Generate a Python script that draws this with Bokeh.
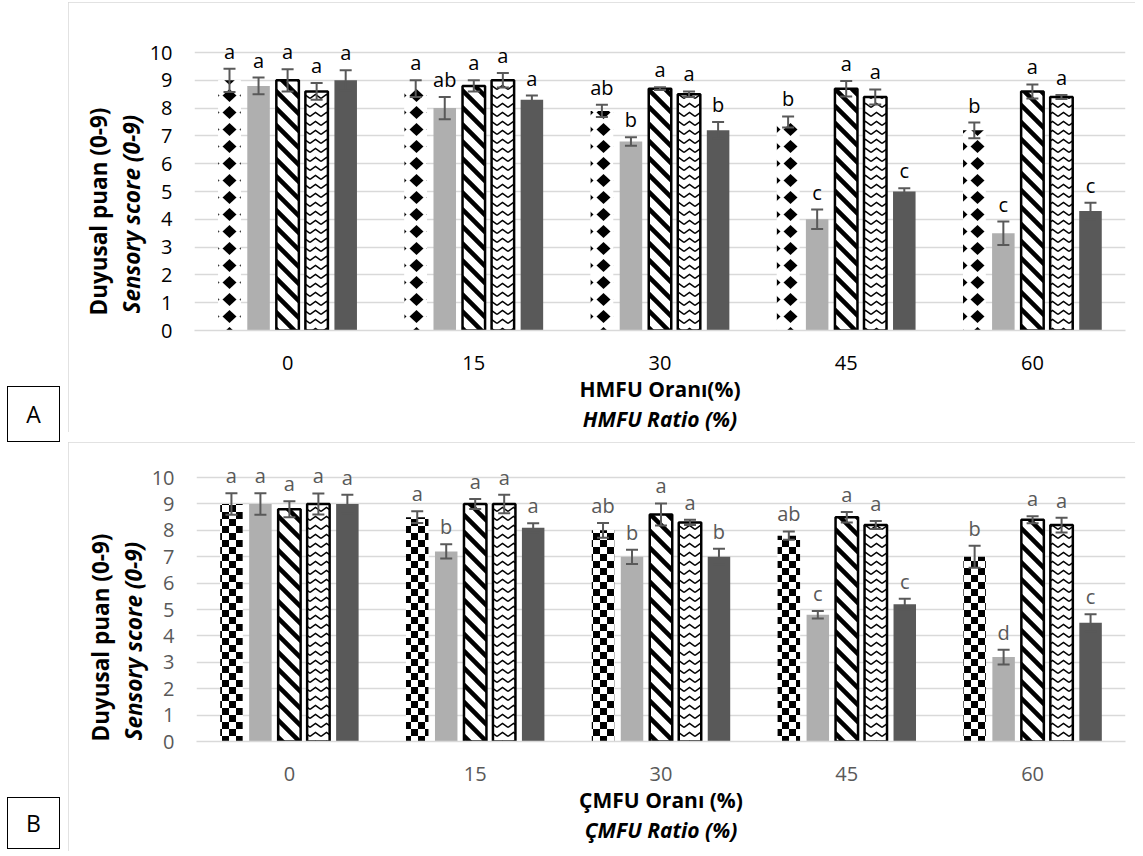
import base64
from bokeh.plotting import figure
from bokeh.models import (FactorRange, Range1d, ColumnDataSource, FixedTicker,
                          ImageURLTexture, Title, Div)
from bokeh.transform import dodge
from bokeh.layouts import column, row
from bokeh.core.properties import value
from bokeh.embed import file_html
from bokeh.resources import INLINE

# ---------------- data ----------------
categories = ["0", "15", "30", "45", "60"]

# Panel A  (HMFU)
a_s1 = [9.0, 8.7, 7.9, 7.5, 7.2]
a_s1_err = [0.42, 0.3, 0.22, 0.2, 0.28]
a_s1_lab = ["a", "a", "ab", "b", "b"]
a_s2 = [8.8, 8.0, 6.8, 4.0, 3.5]
a_s2_err = [0.3, 0.4, 0.15, 0.35, 0.42]
a_s2_lab = ["a", "ab", "b", "c", "c"]
a_s3 = [9.0, 8.8, 8.7, 8.7, 8.6]
a_s3_err = [0.4, 0.2, 0.05, 0.28, 0.25]
a_s3_lab = ["a", "a", "a", "a", "a"]
a_s4 = [8.6, 9.0, 8.5, 8.4, 8.4]
a_s4_err = [0.3, 0.26, 0.1, 0.27, 0.07]
a_s4_lab = ["a", "a", "a", "a", "a"]
a_s5 = [9.0, 8.3, 7.2, 5.0, 4.3]
a_s5_err = [0.36, 0.15, 0.3, 0.12, 0.3]
a_s5_lab = ["a", "a", "b", "c", "c"]

# Panel B  (ÇMFU)
b_s1 = [9.0, 8.5, 8.0, 7.8, 7.0]
b_s1_err = [0.41, 0.22, 0.28, 0.16, 0.42]
b_s1_lab = ["a", "a", "ab", "ab", "b"]
b_s2 = [9.0, 7.2, 7.0, 4.8, 3.2]
b_s2_err = [0.41, 0.27, 0.27, 0.14, 0.28]
b_s2_lab = ["a", "b", "b", "c", "d"]
b_s3 = [8.8, 9.0, 8.6, 8.5, 8.4]
b_s3_err = [0.3, 0.19, 0.42, 0.2, 0.13]
b_s3_lab = ["a", "a", "a", "a", "a"]
b_s4 = [9.0, 9.0, 8.3, 8.2, 8.2]
b_s4_err = [0.4, 0.35, 0.1, 0.15, 0.28]
b_s4_lab = ["a", "a", "a", "a", "a"]
b_s5 = [9.0, 8.1, 7.0, 5.2, 4.5]
b_s5_err = [0.35, 0.17, 0.3, 0.21, 0.32]
b_s5_lab = ["a", "a", "b", "c", "c"]

y_ticks = [0, 1, 2, 3, 4, 5, 6, 7, 8, 9, 10]

# ---------------- textures ----------------
def tile(w, h, body):
    svg = (f'<svg xmlns="http://www.w3.org/2000/svg" width="{w}" height="{h}" '
           f'viewBox="0 0 {w} {h}"><rect width="{w}" height="{h}" fill="white"/>{body}</svg>')
    return "data:image/svg+xml;base64," + base64.b64encode(svg.encode()).decode()

TEX_DIAMOND = tile(17, 17, '<polygon points="8.5,2 15.5,8.5 8.5,15 1.5,8.5" fill="black"/>')
TEX_CHECKER = tile(14, 14, '<rect x="0" y="0" width="7" height="7" fill="black"/>'
                           '<rect x="7" y="7" width="7" height="7" fill="black"/>')
TEX_DIAG = tile(17, 17, '<path d="M-5,-5 L22,22 M-5,12 L5,22 M12,-5 L22,5" '
                        'stroke="black" stroke-width="4.5" fill="none"/>')
TEX_WAVE = tile(11, 9, '<path d="M0,6.5 L5.5,2.5 L11,6.5" stroke="black" '
                       'stroke-width="1.5" fill="none"/>')

FONT = "Open Sans"
OFFSETS = [-0.312, -0.156, 0.0, 0.156, 0.312]
BAR_W = 0.121
ERR_COLOR = "#595959"


def build(series, first_tex, tick_color, lab_color, height, left, top, bottom, y_end,
          xtitles, ytitles):
    p = figure(x_range=FactorRange(factors=categories), y_range=Range1d(0, y_end),
               width=1067, height=height, output_backend="svg", toolbar_location=None,
               min_border_left=left, min_border_right=10, min_border_top=top,
               min_border_bottom=bottom)
    p.outline_line_color = None
    p.background_fill_color = "white"
    p.border_fill_color = "white"
    p.styles = {"outline": "1.5px solid #d9d9d9", "outline-offset": "-1.5px"}
    p.xgrid.grid_line_color = None
    p.ygrid.grid_line_color = "#d9d9d9"
    p.ygrid.grid_line_width = 1.5
    p.yaxis.ticker = FixedTicker(ticks=y_ticks)
    for ax in (p.xaxis, p.yaxis):
        ax.major_tick_line_color = None
        ax.minor_tick_line_color = None
        ax.major_label_text_font = FONT
        ax.major_label_text_font_size = "20px"
        ax.major_label_text_color = tick_color
    p.yaxis.axis_line_color = None
    p.yaxis.major_label_standoff = 16
    p.xaxis.axis_line_color = "#d9d9d9"
    p.xaxis.axis_line_width = 1.5
    p.xaxis.major_label_standoff = 19

    styles = [
        dict(fill="white", line=None, pat="dot", tex=first_tex),
        dict(fill="#afafaf", line=None, pat=None, tex=None),
        dict(fill="white", line="black", pat="left_diagonal_line", tex=TEX_DIAG),
        dict(fill="white", line="black", pat="horizontal_wave", tex=TEX_WAVE),
        dict(fill="#595959", line=None, pat=None, tex=None),
    ]
    for (vals, errs, labs), st, off in zip(series, styles, OFFSETS):
        src = ColumnDataSource(dict(
            cat=categories, v=vals,
            lo=[v - e for v, e in zip(vals, errs)],
            hi=[v + e for v, e in zip(vals, errs)],
            lab=labs))
        xd = dodge("cat", off, range=p.x_range)
        kw = {}
        if st["tex"] is not None:
            kw = dict(hatch_pattern=value(st["pat"]),
                      hatch_extra={st["pat"]: ImageURLTexture(url=st["tex"])})
        p.vbar(x=xd, top="v", bottom=0, width=BAR_W, source=src,
               fill_color=st["fill"], line_color=st["line"],
               line_width=2.5 if st["line"] else 0, **kw)
        p.segment(x0=xd, x1=xd, y0="lo", y1="hi", source=src,
                  line_color=ERR_COLOR, line_width=2)
        for yy in ("lo", "hi"):
            p.scatter(x=xd, y=yy, source=src, marker="dash", size=12,
                      line_color=ERR_COLOR, line_width=2)
        p.text(x=xd, y="hi", text="lab", source=src, text_align="center",
               text_baseline="bottom", y_offset=-4,
               text_font=value(FONT), text_font_size="20px", text_color=lab_color)

    # y titles (left side, stacked outward from the axis)
    for txt, style, off in ytitles:
        p.add_layout(Title(text=txt, align="left", offset=off, standoff=0,
                           text_font=FONT, text_font_size="22.5px",
                           text_font_style=style, text_color="black"), "left")
    for txt, style in xtitles:
        p.add_layout(Title(text=txt, align="center", standoff=0,
                           text_font=FONT, text_font_size="21px",
                           text_font_style=style, text_color="black"), "below")
    return p


def box(letter, top, h):
    return Div(text=letter, width=53, height=h, margin=(top, 8, 0, 7),
               styles={"border": "1px solid black", "box-sizing": "border-box",
                       "display": "flex", "align-items": "center",
                       "justify-content": "center", "font-family": FONT,
                       "font-size": "23px", "color": "black",
                       "background": "white"})


series_a = [(a_s1, a_s1_err, a_s1_lab), (a_s2, a_s2_err, a_s2_lab),
            (a_s3, a_s3_err, a_s3_lab), (a_s4, a_s4_err, a_s4_lab),
            (a_s5, a_s5_err, a_s5_lab)]
series_b = [(b_s1, b_s1_err, b_s1_lab), (b_s2, b_s2_err, b_s2_lab),
            (b_s3, b_s3_err, b_s3_lab), (b_s4, b_s4_err, b_s4_lab),
            (b_s5, b_s5_err, b_s5_lab)]

pa = build(series_a, TEX_DIAMOND, "black", "black", 430, 126, 20, 102, 11.08,
           [("HMFU Oranı(%)", "bold"), ("HMFU Ratio (%)", "bold italic")],
           [("Sensory score (0-9)", "bold italic", 17), ("Duyusal puan (0-9)", "bold", 15)])
pa.margin = (2, 0, 0, 0)
pb = build(series_b, TEX_CHECKER, "#595959", "#595959", 409, 128, 10, 110, 10.95,
           [("ÇMFU Oranı (%)", "bold"), ("ÇMFU Ratio (%)", "bold italic")],
           [("Sensory score (0-9)", "bold italic", 1), ("Duyusal puan (0-9)", "bold", 0)])

layout = column(row(box("A", 386, 56), pa), row(box("B", 355, 52), pb))
open("out.html", "w").write(file_html(layout, INLINE))
